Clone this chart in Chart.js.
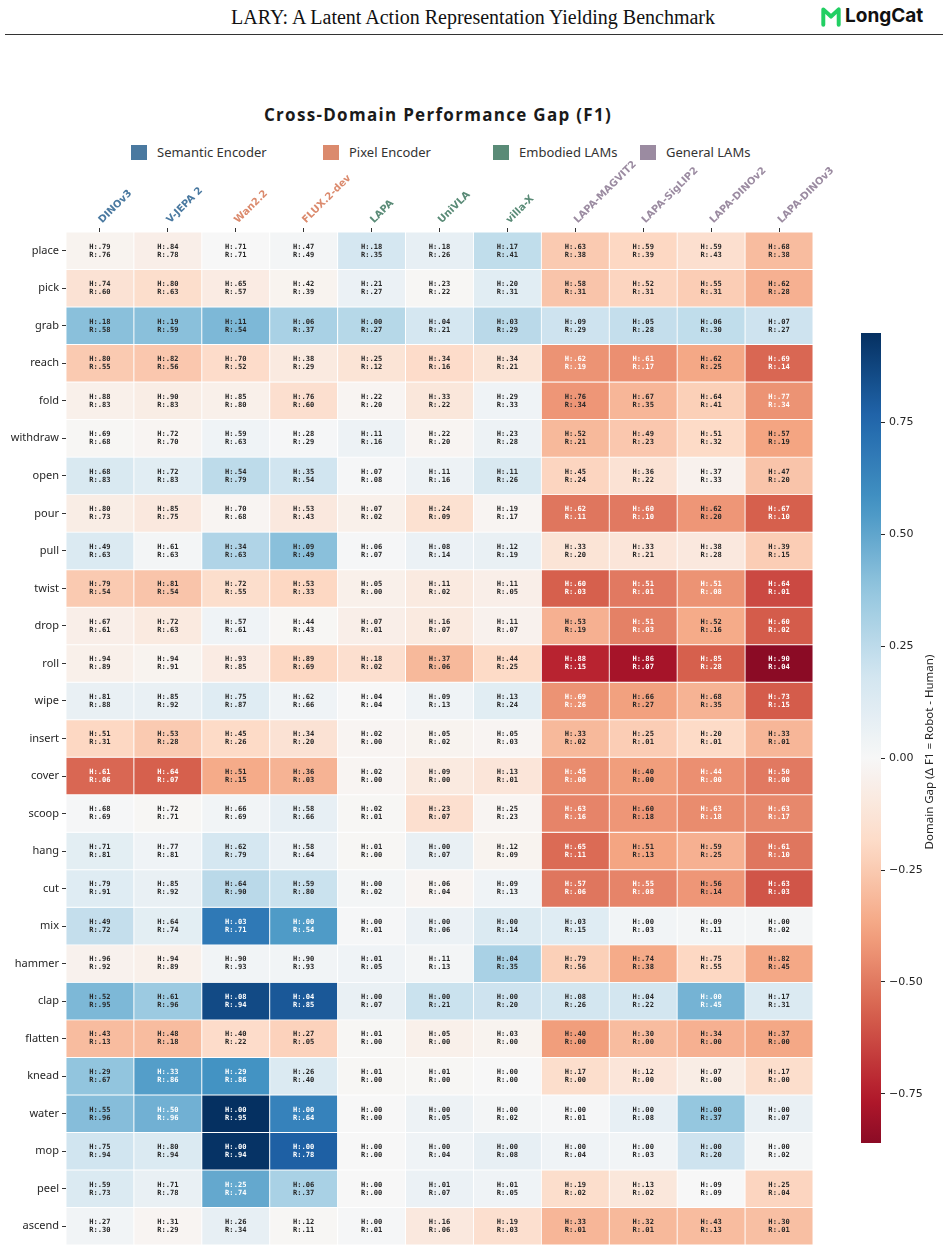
<!DOCTYPE html>
<html>
<head>
<meta charset="utf-8">
<script src="https://cdn.jsdelivr.net/npm/chart.js@4.4.1/dist/chart.umd.min.js"></script>
<style>
    body { margin: 0; width: 948px; height: 1250px; background: #fff; position: relative; overflow: hidden; font-family: 'Noto Sans', sans-serif; }
    #paper-title { position: absolute; left: 0; top: 6px; width: 946px; text-align: center; font-family: 'Liberation Serif', serif; font-size: 20px; color: #111; }
    #rule { position: absolute; left: 5px; top: 34px; width: 938px; height: 1px; background: #333; }
    #logo { position: absolute; left: 820px; top: 4px; display: flex; align-items: center; font-family: Inter, sans-serif; font-weight: 700; font-size: 19px; color: #111; }
    #logo svg { margin-right: 3px; }
    #chart-title { position: absolute; left: 0; top: 103px; width: 876px; text-align: center; font-family: 'Open Sans', sans-serif; font-weight: 700; font-size: 17px; letter-spacing: 1.3px; color: #1a1a1a; }
    .legend-item { position: absolute; top: 143px; display: flex; align-items: center; font-size: 13px; color: #333; }
    .legend-item span.box { width: 16px; height: 15px; margin-right: 10px; display: inline-block; }
    #heatmap { position: absolute; left: 0; top: 140px; }
    #colorbar { position: absolute; left: 820px; top: 300px; }
</style>
</head>
<body>
<div id="paper-title">LARY: A Latent Action Representation Yielding Benchmark</div>
<div id="rule"></div>
<div id="logo">
    <svg width="22" height="22" viewBox="0 0 20 20"><path d="M3 18 V4 L10 10.5 L17 4 V18" fill="none" stroke="#22cf63" stroke-width="3.6" stroke-linejoin="round" stroke-linecap="round"/></svg>
    LongCat
</div>
<div id="chart-title">Cross-Domain Performance Gap (F1)</div>
<div id="legend"></div>
<canvas id="heatmap" width="948" height="1115"></canvas>
<canvas id="colorbar" width="128" height="880"></canvas>

<script>
const models = ['DINOv3', 'V-JEPA 2', 'Wan2.2', 'FLUX.2-dev', 'LAPA', 'UniVLA', 'villa-X',
    'LAPA-MAGVIT2', 'LAPA-SigLIP2', 'LAPA-DINOv2', 'LAPA-DINOv3'];
const modelGroups = [0, 0, 1, 1, 2, 2, 2, 3, 3, 3, 3];
const groupNames = ['Semantic Encoder', 'Pixel Encoder', 'Embodied LAMs', 'General LAMs'];
const groupColors = ['#4a79a0', '#db8a6d', '#5a8b77', '#9b8ba1'];
const legendX = [131, 323, 493, 640];

const actions = ['place', 'pick', 'grab', 'reach', 'fold', 'withdraw', 'open', 'pour', 'pull', 'twist',
    'drop', 'roll', 'wipe', 'insert', 'cover', 'scoop', 'hang', 'cut', 'mix', 'hammer', 'clap',
    'flatten', 'knead', 'water', 'mop', 'peel', 'ascend'];

// F1 on human videos (H) per action, one column per model
const hScores = [
    [.79, .84, .71, .47, .18, .18, .17, .63, .59, .59, .68],
    [.74, .80, .65, .42, .21, .23, .20, .58, .52, .55, .62],
    [.18, .19, .11, .06, .00, .04, .03, .09, .05, .06, .07],
    [.80, .82, .70, .38, .25, .34, .34, .62, .61, .62, .69],
    [.88, .90, .85, .76, .22, .33, .29, .76, .67, .64, .77],
    [.69, .72, .59, .28, .11, .22, .23, .52, .49, .51, .57],
    [.68, .72, .54, .35, .07, .11, .11, .45, .36, .37, .47],
    [.80, .85, .70, .53, .07, .24, .19, .62, .60, .62, .67],
    [.49, .61, .34, .09, .06, .08, .12, .33, .33, .38, .39],
    [.79, .81, .72, .53, .05, .11, .11, .60, .51, .51, .64],
    [.67, .72, .57, .44, .07, .16, .11, .53, .51, .52, .60],
    [.94, .94, .93, .89, .18, .37, .44, .88, .86, .85, .90],
    [.81, .85, .75, .62, .04, .09, .13, .69, .66, .68, .73],
    [.51, .53, .45, .34, .02, .05, .05, .33, .25, .20, .33],
    [.61, .64, .51, .36, .02, .09, .13, .45, .40, .44, .50],
    [.68, .72, .66, .58, .02, .23, .25, .63, .60, .63, .63],
    [.71, .77, .62, .58, .01, .00, .12, .65, .51, .59, .61],
    [.79, .85, .64, .59, .00, .06, .09, .57, .55, .56, .63],
    [.49, .64, .03, .00, .00, .00, .00, .03, .00, .09, .00],
    [.96, .94, .90, .90, .01, .11, .04, .79, .74, .75, .82],
    [.52, .61, .08, .04, .00, .00, .00, .08, .04, .00, .17],
    [.43, .48, .40, .27, .01, .05, .03, .40, .30, .34, .37],
    [.29, .33, .29, .26, .01, .01, .00, .17, .12, .07, .17],
    [.55, .50, .00, .00, .00, .00, .00, .00, .00, .00, .00],
    [.75, .80, .00, .00, .00, .00, .00, .00, .00, .00, .00],
    [.59, .71, .25, .06, .00, .01, .01, .19, .13, .09, .25],
    [.27, .31, .26, .12, .00, .16, .19, .33, .32, .43, .30]
];

// F1 on robot videos (R)
const rScores = [
    [.76, .78, .71, .49, .35, .26, .41, .38, .39, .43, .38],
    [.60, .63, .57, .39, .27, .22, .31, .31, .31, .31, .28],
    [.58, .59, .54, .37, .27, .21, .29, .29, .28, .30, .27],
    [.55, .56, .52, .29, .12, .16, .21, .19, .17, .25, .14],
    [.83, .83, .80, .60, .20, .22, .33, .34, .35, .41, .34],
    [.68, .70, .63, .29, .16, .20, .28, .21, .23, .32, .19],
    [.83, .83, .79, .54, .08, .16, .26, .24, .22, .33, .20],
    [.73, .75, .68, .43, .02, .09, .17, .11, .10, .20, .10],
    [.63, .63, .63, .49, .07, .14, .19, .20, .21, .28, .15],
    [.54, .54, .55, .33, .00, .02, .05, .03, .01, .08, .01],
    [.61, .63, .61, .43, .01, .07, .07, .19, .03, .16, .02],
    [.89, .91, .85, .69, .02, .06, .25, .15, .07, .28, .04],
    [.88, .92, .87, .66, .04, .13, .24, .26, .27, .35, .15],
    [.31, .28, .26, .20, .00, .02, .03, .02, .01, .01, .01],
    [.06, .07, .15, .03, .00, .00, .01, .00, .00, .00, .00],
    [.69, .71, .69, .66, .01, .07, .23, .16, .18, .18, .17],
    [.81, .81, .79, .64, .00, .07, .09, .11, .13, .25, .10],
    [.91, .92, .90, .80, .02, .04, .13, .06, .08, .14, .03],
    [.72, .74, .71, .54, .01, .06, .14, .15, .03, .11, .02],
    [.92, .89, .93, .93, .05, .13, .35, .56, .38, .55, .45],
    [.95, .96, .94, .85, .07, .21, .20, .26, .22, .45, .31],
    [.13, .18, .22, .05, .00, .00, .00, .00, .00, .00, .00],
    [.67, .86, .86, .40, .00, .00, .00, .00, .00, .00, .00],
    [.96, .96, .95, .64, .00, .05, .02, .01, .08, .37, .07],
    [.94, .94, .94, .78, .00, .04, .08, .04, .03, .20, .02],
    [.73, .78, .74, .37, .00, .07, .05, .02, .02, .09, .04],
    [.30, .29, .34, .11, .01, .06, .03, .01, .01, .13, .01]
];

const colorbarTicks = [-0.75, -0.5, -0.25, 0, 0.25, 0.5, 0.75];

// matplotlib RdBu stops
const rdbuStops = ['#67001f', '#b2182b', '#d6604d', '#f4a582', '#fddbc7', '#f7f7f7',
    '#d1e5f0', '#92c5de', '#4393c3', '#2166ac', '#053061'];

const gaps = hScores.map((row, r) => row.map((h, c) => rScores[r][c] - h));
const allGaps = gaps.flat();
const gapMin = Math.min(...allGaps);
const gapMax = Math.max(...allGaps);
const gapRange = Math.max(Math.abs(gapMin), Math.abs(gapMax));

function hexToRgb(hex) {
    const n = parseInt(hex.slice(1), 16);
    return [(n >> 16) & 255, (n >> 8) & 255, n & 255];
}
const rdbuRgb = rdbuStops.map(hexToRgb);

function rdbu(t) {
    t = Math.min(1, Math.max(0, t));
    const pos = t * (rdbuRgb.length - 1);
    const i = Math.min(Math.floor(pos), rdbuRgb.length - 2);
    const f = pos - i;
    return rdbuRgb[i].map((v, k) => Math.round(v + (rdbuRgb[i + 1][k] - v) * f));
}

function gapRgb(d) {
    return rdbu((d + gapRange) / (2 * gapRange));
}
function gapColor(d) {
    const [r, g, b] = gapRgb(d);
    return `rgb(${r}, ${g}, ${b})`;
}
function textColorFor(d) {
    // same rule seaborn uses for annotations
    const lin = gapRgb(d).map(v => {
        v /= 255;
        return v <= 0.03928 ? v / 12.92 : Math.pow((v + 0.055) / 1.055, 2.4);
    });
    const lum = 0.2126 * lin[0] + 0.7152 * lin[1] + 0.0722 * lin[2];
    return lum > 0.408 ? '#262626' : '#ffffff';
}
const fmtScore = v => v.toFixed(2).replace(/^0/, '');

// legend
const legendEl = document.getElementById('legend');
groupNames.forEach((name, i) => {
    const item = document.createElement('div');
    item.className = 'legend-item';
    item.style.left = legendX[i] + 'px';
    item.innerHTML = `<span class="box" style="background:${groupColors[i]}"></span>${name}`;
    legendEl.appendChild(item);
});

const cellLabels = {
    id: 'cellLabels',
    afterDatasetsDraw(chart) {
        const ctx = chart.ctx;
        ctx.save();
        ctx.font = 'bold 7.1px "DejaVu Sans Mono"';
        ctx.textAlign = 'center';
        ctx.textBaseline = 'middle';
        chart.data.datasets.forEach((ds, r) => {
            chart.getDatasetMeta(r).data.forEach((bar, c) => {
                const cy = (bar.y + bar.base) / 2;
                ctx.fillStyle = textColorFor(gaps[r][c]);
                ctx.fillText('H:' + fmtScore(hScores[r][c]), bar.x, cy - 4);
                ctx.fillText('R:' + fmtScore(rScores[r][c]), bar.x, cy + 4);
            });
        });
        ctx.restore();
    }
};

new Chart(document.getElementById('heatmap'), {
    type: 'bar',
    data: {
        labels: models,
        datasets: actions.map((action, r) => ({
            label: action,
            data: models.map(() => [r, r + 1]),
            backgroundColor: gaps[r].map(gapColor),
            borderColor: '#ffffff',
            borderWidth: 0.8,
            borderSkipped: false,
            grouped: false,
            barPercentage: 1,
            categoryPercentage: 1
        }))
    },
    options: {
        responsive: false,
        animation: false,
        devicePixelRatio: 1,
        layout: { padding: { left: 0, right: 135, top: 0, bottom: 10 } },
        plugins: {
            legend: { display: false },
            tooltip: { enabled: false }
        },
        scales: {
            x: {
                type: 'category',
                position: 'top',
                offset: true,
                grid: { offset: false, drawOnChartArea: false, drawTicks: true, tickLength: 4, color: '#333' },
                border: { display: false },
                ticks: {
                    minRotation: 45,
                    maxRotation: 45,
                    autoSkip: false,
                    padding: 2,
                    labelOffset: 9,
                    color: ctx => groupColors[modelGroups[ctx.index]],
                    font: { family: 'DejaVu Sans', size: 10, weight: 'bold' }
                },
                afterFit: scale => { scale.height = 92; }
            },
            y: {
                type: 'linear',
                reverse: true,
                min: 0,
                max: actions.length,
                afterBuildTicks: scale => {
                    scale.ticks = actions.map((a, i) => ({ value: i + 0.5 }));
                },
                grid: { drawOnChartArea: false, drawTicks: true, tickLength: 4, color: '#333' },
                border: { display: false },
                ticks: {
                    autoSkip: false,
                    padding: 3,
                    color: '#262626',
                    font: { family: 'Noto Sans', size: 11 },
                    callback: (v, i) => actions[i]
                },
                afterFit: scale => { scale.width = 66; }
            }
        }
    },
    plugins: [cellLabels]
});

const colorbarLabel = {
    id: 'colorbarLabel',
    afterDraw(chart) {
        const ctx = chart.ctx;
        ctx.save();
        ctx.translate(110, 452);
        ctx.rotate(-Math.PI / 2);
        ctx.font = '11.5px "Noto Sans"';
        ctx.fillStyle = '#262626';
        ctx.textAlign = 'center';
        ctx.textBaseline = 'middle';
        ctx.fillText('Domain Gap (Δ F1 = Robot - Human)', 0, 0);
        ctx.restore();
    }
};

new Chart(document.getElementById('colorbar'), {
    type: 'bar',
    data: {
        labels: [''],
        datasets: [{
            data: [[gapMin, gapMax]],
            backgroundColor: ctx => {
                const area = ctx.chart.chartArea;
                if (!area) return null;
                const g = ctx.chart.ctx.createLinearGradient(0, area.bottom, 0, area.top);
                for (let s = 0; s <= 40; s++) {
                    const t = s / 40;
                    g.addColorStop(t, gapColor(gapMin + t * (gapMax - gapMin)));
                }
                return g;
            },
            borderWidth: 0,
            barPercentage: 1,
            categoryPercentage: 1
        }]
    },
    options: {
        responsive: false,
        animation: false,
        devicePixelRatio: 1,
        layout: { padding: { left: 41, top: 33, bottom: 37, right: 0 } },
        plugins: {
            legend: { display: false },
            tooltip: { enabled: false }
        },
        scales: {
            x: { display: false },
            y: {
                position: 'right',
                min: gapMin,
                max: gapMax,
                afterBuildTicks: scale => {
                    scale.ticks = colorbarTicks.map(v => ({ value: v }));
                },
                grid: { drawOnChartArea: false, drawTicks: true, tickLength: 4, color: '#262626' },
                border: { display: false },
                ticks: {
                    padding: 4,
                    color: '#262626',
                    font: { family: 'DejaVu Sans', size: 11 },
                    callback: v => (v < 0 ? '\u2212' : '') + Math.abs(v).toFixed(2)
                },
                afterFit: scale => { scale.width = 67; }
            }
        }
    },
    plugins: [colorbarLabel]
});
</script>
</body>
</html>
